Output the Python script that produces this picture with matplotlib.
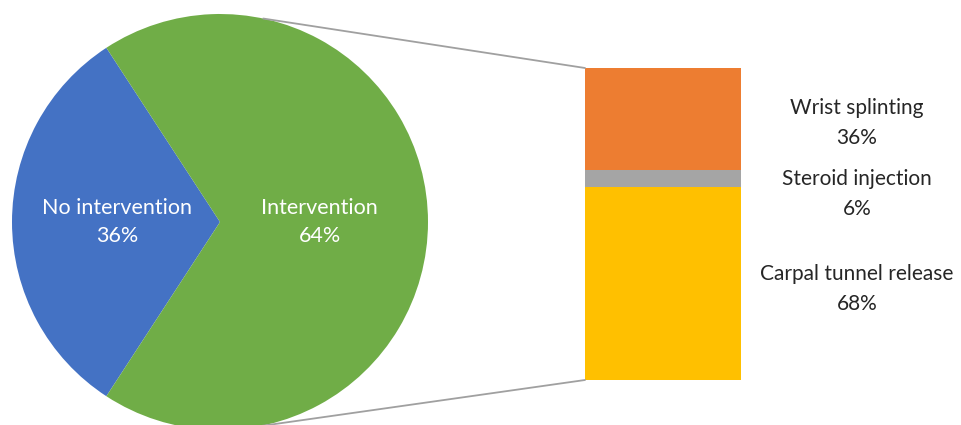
import numpy as np
import matplotlib
matplotlib.use('Agg')
import matplotlib.pyplot as plt
from matplotlib.patches import ConnectionPatch

plt.rcParams['font.family'] = ['Lato', 'DejaVu Sans']

# Pie data (drawn shares, label text as printed)
pie_names = ['No intervention', 'Intervention']
pie_shares = [31.6, 68.4]
pie_pct = ['36%', '64%']
pie_colors = ['#4472C4', '#70AD47']

# Bar data (breakdown of intervention)
bar_names = ['Carpal tunnel release', 'Steroid injection', 'Wrist splinting']
bar_values = [68, 6, 36]
bar_colors = ['#FFC000', '#A5A5A5', '#ED7D31']

W, H = 962, 425
fig = plt.figure(figsize=(W / 100, H / 100), dpi=100)

# pie axes: center (220, 222) px from top, radius 208 px
r, cx, cy = 208, 220, 222
ax_pie = fig.add_axes([(cx - r) / W, (H - cy - r) / H, 2 * r / W, 2 * r / H])
start = 180 - pie_shares[0] / 100 * 360 / 2
ax_pie.pie(pie_shares, colors=pie_colors, startangle=start, radius=1,
           wedgeprops=dict(linewidth=0))
ax_pie.set_xlim(-1, 1)
ax_pie.set_ylim(-1, 1)
ax_pie.set_aspect('equal')
ax_pie.axis('off')

ax_pie.text(-0.495, 0, pie_names[0] + '\n' + pie_pct[0], color='white',
            fontsize=15.5, ha='center', va='center', linespacing=1.5)
ax_pie.text(0.48, 0, pie_names[1] + '\n' + pie_pct[1], color='white',
            fontsize=15.5, ha='center', va='center', linespacing=1.5)

# bar axes
ax_bar = fig.add_axes([585 / W, 45 / H, 156 / W, 312 / H])
bottom = 0
for v, c in zip(bar_values, bar_colors):
    ax_bar.bar(0, v, bottom=bottom, width=1, color=c, linewidth=0)
    bottom += v
ax_bar.set_xlim(-0.5, 0.5)
ax_bar.set_ylim(0, sum(bar_values))
ax_bar.axis('off')

# labels at right of bar
for name, v, yy in zip(bar_names, bar_values, [289, 194, 123]):
    fig.text(857 / W, 1 - yy / H, name + '\n' + f'{v}%', color='#262626',
             fontsize=15, ha='center', va='center', linespacing=1.6)

# connector lines
for ang, yb in [(78, sum(bar_values)), (-79, 0)]:
    a = np.deg2rad(ang)
    con = ConnectionPatch(xyA=(np.cos(a), np.sin(a)), coordsA=ax_pie.transData,
                          xyB=(-0.5, yb), coordsB=ax_bar.transData,
                          color='#A0A0A0', linewidth=1.3)
    fig.add_artist(con)

fig.savefig('out.png', dpi=100)
